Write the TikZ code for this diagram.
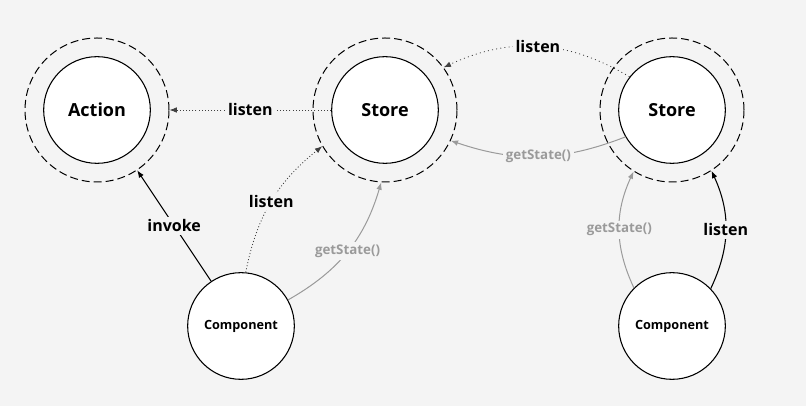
\documentclass[tikz,border=0pt]{standalone}
\usepackage{fontspec}
\setmainfont{Open Sans}
\usetikzlibrary{arrows.meta}
\definecolor{bg}{HTML}{F4F4F4}
\definecolor{getcol}{HTML}{9A9A9A}
\tikzset{
  actor/.style={circle,draw,fill=white,line width=0.8pt,minimum size=80pt,inner sep=0pt,
    font=\bfseries\fontsize{13.5}{16}\selectfont},
  comp/.style={actor,font=\bfseries\fontsize{9.5}{11}\selectfont},
  halo/.style={circle,draw,line width=0.75pt,dash pattern=on 6pt off 3pt,minimum size=108pt,inner sep=0pt},
  lbl/.style={fill=bg,inner sep=2pt,text=black,font=\bfseries\fontsize{12}{14}\selectfont},
  glbl/.style={lbl,text=getcol,font=\bfseries\fontsize{10}{12}\selectfont},
  tip/.style={-{Latex[length=5.5pt,width=4.2pt]}},
  listenline/.style={tip,line width=0.6pt,black!75,dash pattern=on 0.75pt off 1.6pt},
  getline/.style={tip,line width=0.75pt,getcol},
  callline/.style={tip,line width=0.8pt}
}
\begin{document}
\begin{tikzpicture}[x=0.75pt,y=0.75pt]
\path[use as bounding box,fill=bg] (0,0) rectangle (806,406);
% dashed rings
\node[halo] (actiono) at (97,296) {};
\node[halo] (storeao) at (385,296) {};
\node[halo] (storebo) at (672,296) {};
% circles
\node[actor] (action) at (97,296) {Action};
\node[actor] (storea) at (385,296) {Store};
\node[actor] (storeb) at (672,296) {Store};
\node[comp] (compa) at (241,80) {Component};
\node[comp] (compb) at (672,80) {Component};
% store to store
\draw[listenline] (storea.west) -- node[midway,lbl] {listen} (actiono.east);
\draw[listenline,dash pattern=on 0.75pt off 2.4pt] (storeb.142) to[bend right=28] node[midway,lbl] {listen} (storeao.36);
\draw[getline] (storeb.210) to[bend left=20] node[midway,glbl] {getState()} (storeao.-25);
% left component
\draw[callline] (compa) -- node[midway,lbl] {invoke} (actiono);
\draw[listenline] (compa.85) to[bend left=20] node[midway,lbl] {listen} (storeao.210);
\draw[getline] (compa.29) to[bend right=22] node[midway,glbl] {getState()} (storeao.267);
% right component
\draw[getline] (compb.135) to[bend left=25] node[midway,glbl] {getState()} (storebo.238);
\draw[callline] (compb.44) to[bend right=25] node[midway,lbl] {listen} (storebo.303);
\end{tikzpicture}
\end{document}
